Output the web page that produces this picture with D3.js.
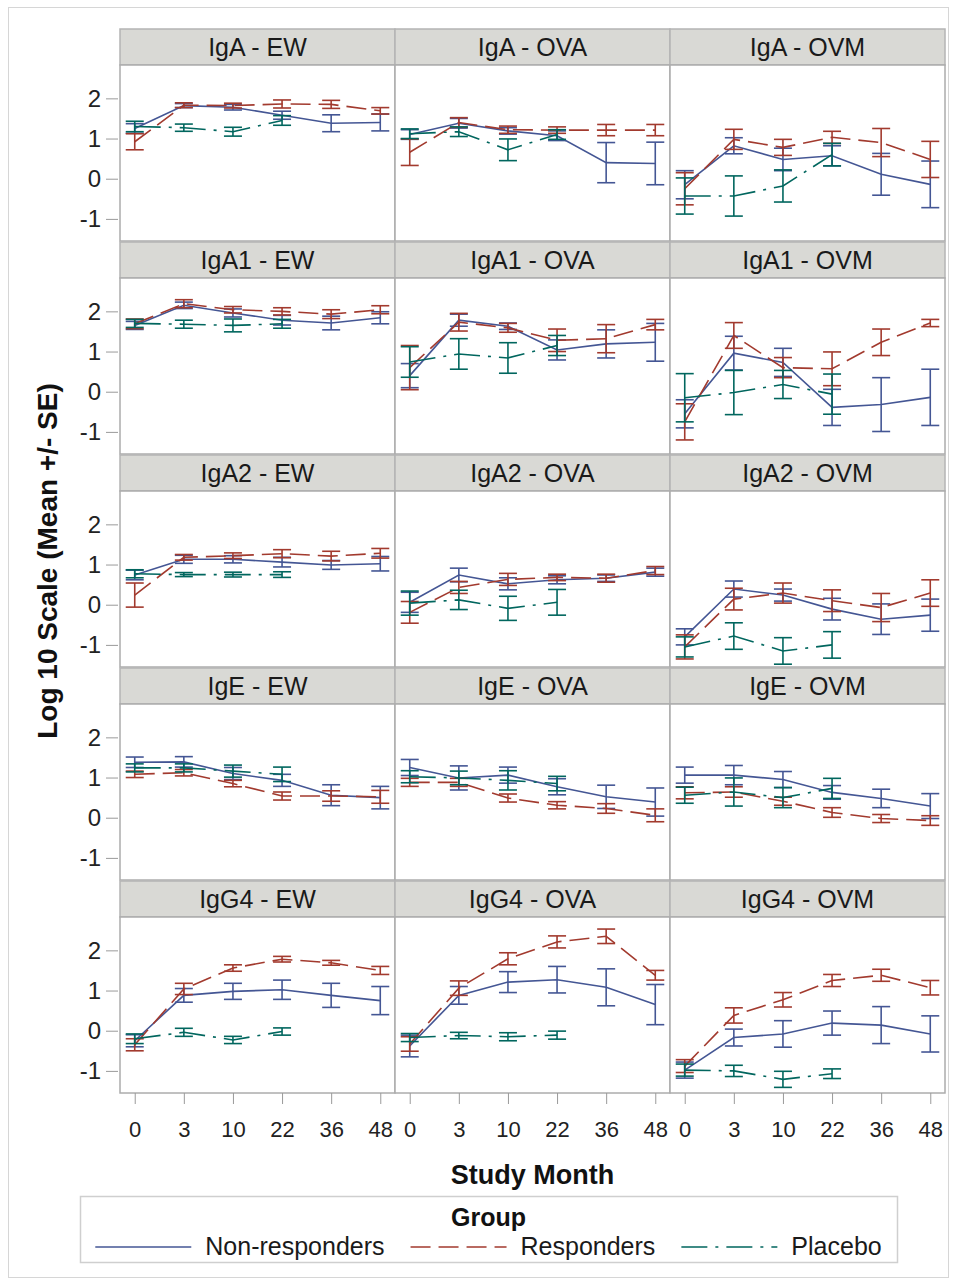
<!DOCTYPE html>
<html lang="en">
<head>
<meta charset="UTF-8">
<title>Log 10 Scale by Study Month</title>
<script src="https://d3js.org/d3.v7.min.js"></script>
<style>
  body { margin: 0; background: #fff; }
  svg { display: block; font-family: "Liberation Sans", Arial, sans-serif; }
</style>
</head>
<body>
<svg id="chart" width="955" height="1282"></svg>
<script>
// categories
const months = ["0", "3", "10", "22", "36", "48"];
const isotypes = ["IgA", "IgA1", "IgA2", "IgE", "IgG4"];
const antigens = ["EW", "OVA", "OVM"];
const groups = ["Non-responders", "Responders", "Placebo"];
const yTicks = [-1, 0, 1, 2];

// one row per panel: IgA-EW, IgA-OVA, IgA-OVM, IgA1-EW, ... IgG4-OVM
const nonRespMean = [
  [1.25, 1.82, 1.78, 1.58, 1.38, 1.40],
  [1.10, 1.38, 1.19, 1.07, 0.40, 0.38],
  [-0.15, 0.82, 0.48, 0.57, 0.11, -0.14],
  [1.65, 2.15, 1.96, 1.78, 1.71, 1.84],
  [0.40, 1.78, 1.63, 1.04, 1.19, 1.23],
  [-0.55, 0.96, 0.73, -0.39, -0.32, -0.14],
  [0.74, 1.13, 1.13, 1.06, 0.99, 1.02],
  [0.06, 0.74, 0.52, 0.62, 0.66, 0.81],
  [-0.80, 0.39, 0.24, -0.11, -0.36, -0.26],
  [1.38, 1.39, 1.10, 0.93, 0.56, 0.50],
  [1.25, 0.99, 1.06, 0.77, 0.52, 0.39],
  [1.06, 1.06, 0.95, 0.63, 0.48, 0.29],
  [-0.25, 0.88, 0.98, 1.02, 0.88, 0.75],
  [-0.38, 0.88, 1.21, 1.27, 1.08, 0.65],
  [-0.98, -0.17, -0.08, 0.19, 0.14, -0.08]
];
const nonRespSE = [
  [0.12, 0.05, 0.07, 0.10, 0.21, 0.21],
  [0.12, 0.12, 0.08, 0.12, 0.50, 0.53],
  [0.35, 0.20, 0.28, 0.25, 0.52, 0.58],
  [0.10, 0.08, 0.10, 0.12, 0.17, 0.15],
  [0.30, 0.15, 0.08, 0.25, 0.35, 0.47],
  [0.35, 0.42, 0.35, 0.45, 0.67, 0.70],
  [0.12, 0.10, 0.09, 0.12, 0.11, 0.18],
  [0.25, 0.17, 0.15, 0.10, 0.08, 0.10],
  [0.20, 0.20, 0.15, 0.27, 0.38, 0.40],
  [0.13, 0.13, 0.15, 0.15, 0.26, 0.28],
  [0.20, 0.30, 0.20, 0.20, 0.29, 0.35],
  [0.20, 0.24, 0.20, 0.17, 0.23, 0.31],
  [0.15, 0.17, 0.20, 0.24, 0.30, 0.35],
  [0.27, 0.22, 0.26, 0.33, 0.46, 0.50],
  [0.20, 0.21, 0.33, 0.30, 0.46, 0.45]
];
const respMean = [
  [0.92, 1.83, 1.82, 1.86, 1.85, 1.69],
  [0.66, 1.40, 1.22, 1.21, 1.21, 1.21],
  [-0.25, 0.98, 0.78, 1.03, 0.90, 0.48],
  [1.69, 2.19, 2.04, 2.00, 1.93, 2.04],
  [0.60, 1.73, 1.59, 1.28, 1.32, 1.67],
  [-0.75, 1.40, 0.60, 0.57, 1.23, 1.71],
  [0.24, 1.18, 1.22, 1.27, 1.21, 1.28],
  [-0.19, 0.43, 0.63, 0.68, 0.66, 0.85],
  [-1.05, 0.14, 0.29, 0.10, -0.07, 0.29],
  [1.08, 1.12, 0.85, 0.54, 0.54, 0.52],
  [0.88, 0.88, 0.49, 0.31, 0.23, 0.06],
  [0.62, 0.64, 0.41, 0.13, -0.02, -0.07],
  [-0.35, 1.04, 1.56, 1.78, 1.69, 1.50],
  [-0.33, 1.06, 1.79, 2.21, 2.35, 1.38],
  [-0.88, 0.38, 0.77, 1.25, 1.38, 1.07]
];
const respSE = [
  [0.20, 0.06, 0.06, 0.10, 0.10, 0.08],
  [0.33, 0.12, 0.09, 0.08, 0.14, 0.14],
  [0.40, 0.25, 0.20, 0.15, 0.35, 0.45],
  [0.12, 0.10, 0.08, 0.09, 0.11, 0.10],
  [0.55, 0.22, 0.11, 0.28, 0.35, 0.13],
  [0.45, 0.32, 0.25, 0.42, 0.33, 0.09],
  [0.30, 0.07, 0.07, 0.10, 0.12, 0.12],
  [0.27, 0.15, 0.15, 0.08, 0.10, 0.10],
  [0.30, 0.27, 0.25, 0.27, 0.35, 0.33],
  [0.08, 0.08, 0.08, 0.10, 0.13, 0.16],
  [0.10, 0.10, 0.10, 0.09, 0.12, 0.16],
  [0.15, 0.13, 0.10, 0.12, 0.10, 0.12],
  [0.15, 0.14, 0.08, 0.07, 0.06, 0.10],
  [0.18, 0.18, 0.15, 0.15, 0.18, 0.12],
  [0.16, 0.19, 0.18, 0.15, 0.15, 0.18]
];
// placebo only measured up to month 22
const placeboMean = [
  [1.30, 1.27, 1.17, 1.45],
  [1.12, 1.17, 0.72, 1.10],
  [-0.43, -0.43, -0.18, 0.60],
  [1.70, 1.68, 1.65, 1.69],
  [0.74, 0.94, 0.84, 1.15],
  [-0.15, -0.02, 0.18, -0.06],
  [0.77, 0.75, 0.75, 0.75],
  [0.04, 0.12, -0.09, 0.06],
  [-1.05, -0.78, -1.15, -1.00],
  [1.24, 1.24, 1.16, 1.08],
  [1.02, 0.99, 0.93, 0.85],
  [0.56, 0.64, 0.50, 0.73],
  [-0.20, -0.04, -0.23, -0.02],
  [-0.17, -0.12, -0.15, -0.11],
  [-0.98, -1.00, -1.21, -1.07]
];
const placeboSE = [
  [0.13, 0.09, 0.11, 0.12],
  [0.12, 0.12, 0.27, 0.12],
  [0.45, 0.50, 0.40, 0.28],
  [0.10, 0.10, 0.16, 0.11],
  [0.38, 0.38, 0.38, 0.25],
  [0.60, 0.55, 0.35, 0.50],
  [0.10, 0.05, 0.06, 0.07],
  [0.30, 0.24, 0.30, 0.32],
  [0.25, 0.33, 0.33, 0.33],
  [0.10, 0.10, 0.15, 0.18],
  [0.15, 0.17, 0.24, 0.18],
  [0.20, 0.35, 0.25, 0.25],
  [0.12, 0.10, 0.09, 0.09],
  [0.10, 0.08, 0.10, 0.10],
  [0.15, 0.14, 0.20, 0.12]
];

const series = [
  { name: groups[0], mean: nonRespMean, se: nonRespSE, color: "#445694", dash: null },
  { name: groups[1], mean: respMean, se: respSE, color: "#A23A2E", dash: "20,8" },
  { name: groups[2], mean: placeboMean, se: placeboSE, color: "#01665E", dash: "26,8,3,8" }
];

// layout
const left = 120, colW = 275, top0 = 29, headH = 36, plotH = 176, rowStep = 213;
const capHalf = 9;

const svg = d3.select("#chart");

svg.append("rect")
  .attr("x", 8.5).attr("y", 7.5)
  .attr("width", 940).attr("height", 1270)
  .attr("fill", "#fff").attr("stroke", "#d6d6d6");

const x = d3.scalePoint().domain(months).range([0, colW]).padding(0.3);
const y = d3.scaleLinear().domain([-1.55, 2.83]).range([plotH, 0]);

const line = d3.line()
  .x(d => x(d.m))
  .y(d => y(d.v));

isotypes.forEach((iso, r) => {
  antigens.forEach((ag, c) => {
    const k = r * antigens.length + c;
    const gx = left + c * colW;
    const gy = top0 + r * rowStep;

    // header strip
    svg.append("rect")
      .attr("x", gx).attr("y", gy)
      .attr("width", colW).attr("height", headH)
      .attr("fill", "#d9d9d5").attr("stroke", "#b4b4b4").attr("stroke-width", 1.5);
    svg.append("text")
      .attr("x", gx + colW / 2).attr("y", gy + 27)
      .attr("text-anchor", "middle")
      .attr("font-size", 25).attr("fill", "#1a1a1a")
      .text(`${iso} - ${ag}`);

    const g = svg.append("g").attr("transform", `translate(${gx},${gy + headH})`);
    g.append("rect")
      .attr("width", colW).attr("height", plotH)
      .attr("fill", "#fff").attr("stroke", "#acacac").attr("stroke-width", 1.5);

    series.forEach(s => {
      const pts = s.mean[k].map((v, i) => ({ m: months[i], v: v, se: s.se[k][i] }));

      g.append("path")
        .datum(pts)
        .attr("d", line)
        .attr("fill", "none")
        .attr("stroke", s.color)
        .attr("stroke-width", 1.6)
        .attr("stroke-dasharray", s.dash);

      const bars = g.append("g").attr("stroke", s.color).attr("stroke-width", 1.6);
      bars.selectAll("line.v")
        .data(pts).join("line").attr("class", "v")
        .attr("x1", d => x(d.m)).attr("x2", d => x(d.m))
        .attr("y1", d => y(d.v - d.se)).attr("y2", d => y(d.v + d.se));
      bars.selectAll("line.hi")
        .data(pts).join("line").attr("class", "hi")
        .attr("x1", d => x(d.m) - capHalf).attr("x2", d => x(d.m) + capHalf)
        .attr("y1", d => y(d.v + d.se)).attr("y2", d => y(d.v + d.se));
      bars.selectAll("line.lo")
        .data(pts).join("line").attr("class", "lo")
        .attr("x1", d => x(d.m) - capHalf).attr("x2", d => x(d.m) + capHalf)
        .attr("y1", d => y(d.v - d.se)).attr("y2", d => y(d.v - d.se));
    });

    if (c === 0) {
      const ya = g.append("g")
        .call(d3.axisLeft(y).tickValues(yTicks).tickSize(12).tickPadding(7).tickFormat(d => String(d)));
      ya.select(".domain").remove();
      ya.selectAll(".tick line").attr("stroke", "#9a9a9a").attr("x2", -2).attr("x1", -14);
      ya.selectAll(".tick text").attr("font-size", 24).attr("fill", "#222").attr("font-family", null);
    }
    if (r === isotypes.length - 1) {
      const xa = g.append("g")
        .attr("transform", `translate(0,${plotH})`)
        .call(d3.axisBottom(x).tickSize(11).tickPadding(17));
      xa.select(".domain").remove();
      xa.selectAll(".tick line").attr("stroke", "#9a9a9a");
      xa.selectAll(".tick text").attr("font-size", 22).attr("fill", "#222").attr("font-family", null);
    }
  });
});

// axis titles
const panelsBottom = top0 + (isotypes.length - 1) * rowStep + headH + plotH;
svg.append("text")
  .attr("transform", `translate(47,${(top0 + panelsBottom) / 2}) rotate(-90)`)
  .attr("text-anchor", "middle").attr("dominant-baseline", "central")
  .attr("font-size", 28).attr("font-weight", "bold").attr("fill", "#111")
  .text("Log 10 Scale (Mean +/- SE)");

svg.append("text")
  .attr("x", left + colW * 1.5).attr("y", 1184)
  .attr("text-anchor", "middle")
  .attr("font-size", 27).attr("font-weight", "bold").attr("fill", "#111")
  .text("Study Month");

// legend
const lgX = 80, lgY = 1196, lgW = 817, lgH = 66;
svg.append("rect")
  .attr("x", lgX + 0.5).attr("y", lgY + 0.5)
  .attr("width", lgW).attr("height", lgH)
  .attr("fill", "#fff").attr("stroke", "#cfcfcf").attr("stroke-width", 1.5);
svg.append("text")
  .attr("x", lgX + lgW / 2).attr("y", lgY + 30)
  .attr("text-anchor", "middle")
  .attr("font-size", 25).attr("font-weight", "bold").attr("fill", "#111")
  .text("Group");

const items = svg.append("g");
let cx = 0;
series.forEach((s, i) => {
  const it = items.append("g").attr("transform", `translate(${cx},0)`);
  it.append("line")
    .attr("x1", 0).attr("x2", 96).attr("y1", -8).attr("y2", -8)
    .attr("stroke", s.color).attr("stroke-width", 1.6)
    .attr("stroke-dasharray", s.dash);
  const t = it.append("text")
    .attr("x", 110).attr("y", 0)
    .attr("font-size", 25).attr("fill", "#1a1a1a")
    .text(s.name);
  cx += 110 + t.node().getComputedTextLength() + 26;
});
const itemsW = cx - 26;
items.attr("transform", `translate(${lgX + lgW / 2 - itemsW / 2},1255)`);
</script>
</body>
</html>
